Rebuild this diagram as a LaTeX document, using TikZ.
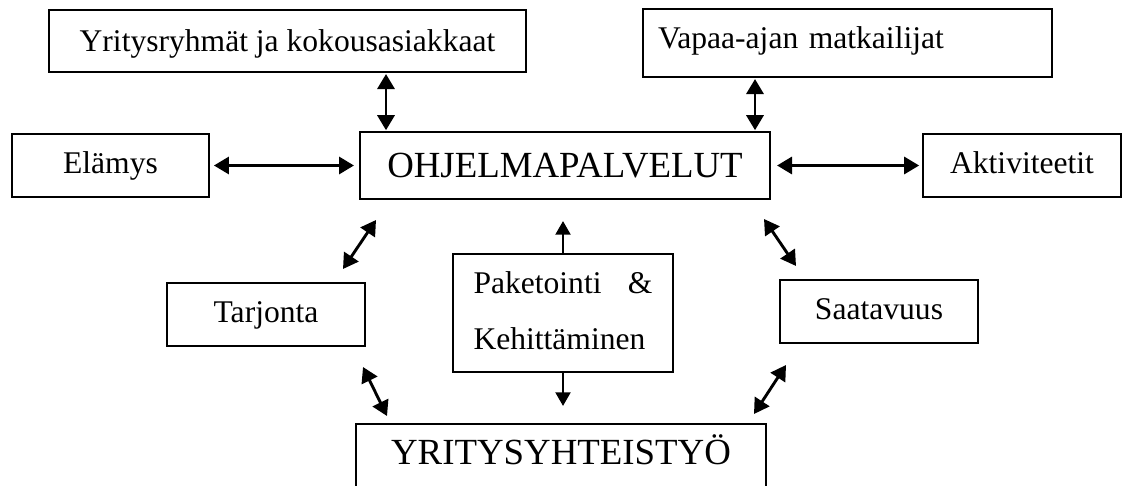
\documentclass[tikz,border=0pt]{standalone}
\usepackage{fontspec}
\setmainfont{Liberation Serif}
\usetikzlibrary{arrows.meta}
\begin{document}
\begin{tikzpicture}[x=0.38pt,y=-0.38pt,
  boxbase/.style={draw, line width=0.76pt, inner sep=0pt},
  onebox/.style={boxbase, font=\fontsize{12}{14}\selectfont, text height=8.4pt, text depth=2.4pt},
  bigbox/.style={boxbase, font=\fontsize{14}{16}\selectfont, text height=9.24pt, text depth=0pt},
  arr/.style={line width=1.1pt, {Triangle[length=5.7pt,width=6.5pt]}-{Triangle[length=5.7pt,width=6.5pt]}},
  sarr/.style={line width=1.1pt, -{Triangle[length=5.2pt,width=5.6pt]}}]
\clip (0,0) rectangle (1122,486);
% boxes
\node[onebox, minimum width=477*0.38pt, minimum height=62*0.38pt, text depth=0.72pt] (yri) at (287.5,41) {Yritysryhmät ja kokousasiakkaat};
\node[onebox, minimum width=409*0.38pt, minimum height=68*0.38pt, text width=379*0.38pt, align=left, text depth=3.84pt] (vap) at (847.5,43) {Vapaa-ajan matkailijat};
\node[onebox, minimum width=197*0.38pt, minimum height=63*0.38pt] (ela) at (110.5,165.5) {Elämys};
\node[bigbox, minimum width=410*0.38pt, minimum height=67*0.38pt] (ohj) at (565,165.5) {OHJELMAPALVELUT};
\node[onebox, minimum width=198*0.38pt, minimum height=63*0.38pt] (akt) at (1022,165.5) {Aktiviteetit};
\node[onebox, minimum width=198*0.38pt, minimum height=63*0.38pt] (tar) at (266,314.5) {Tarjonta};
\node[boxbase, minimum width=220*0.38pt, minimum height=118*0.38pt, text width=179*0.38pt, align=left, font=\fontsize{12}{21.4}\selectfont, text height=8.4pt, text depth=23.6pt] (pak) at (563,313) {\makebox[68pt][l]{Paketointi\hfill\&}\\Kehittäminen};
\node[onebox, minimum width=198*0.38pt, minimum height=63*0.38pt] (saa) at (879,311.5) {Saatavuus};
\node[bigbox, minimum width=410*0.38pt, minimum height=67*0.38pt, text depth=3.64pt] (yht) at (561,457.5) {YRITYSYHTEISTYÖ};
% vertical and horizontal connectors
\coordinate (o1) at ([xshift=27*0.38pt]ohj.north west);
\coordinate (o2) at ([xshift=-16*0.38pt]ohj.north east);
\draw[arr, shorten <=0.3pt, shorten >=0.4pt] (o1) -- (o1 |- yri.south);
\draw[arr, shorten <=0.3pt, shorten >=0.4pt] (o2) -- (o2 |- vap.south);
\draw[arr, shorten <=1.5pt, shorten >=1.9pt] (ela) -- (ohj);
\draw[arr, shorten <=2.3pt, shorten >=1.1pt] (ohj) -- (akt);
% diagonal connectors
\coordinate (ta1) at (343,269);
\coordinate (ta2) at (376,220);
\coordinate (tb1) at (363,367);
\coordinate (tb2) at (387,416);
\coordinate (sa1) at (796,266);
\coordinate (sa2) at (764,219);
\coordinate (sb1) at (786,365);
\coordinate (sb2) at (754,414);
\draw[arr] (ta1) -- (ta2);
\draw[arr] (tb1) -- (tb2);
\draw[arr] (sa1) -- (sa2);
\draw[arr] (sb1) -- (sb2);
% Paketointi connectors
\draw[sarr, shorten >=21*0.38pt] (pak.north) -- (pak.north |- ohj.south);
\draw[sarr, shorten >=17*0.38pt] (pak.south) -- (pak.south |- yht.north);
\end{tikzpicture}
\end{document}
